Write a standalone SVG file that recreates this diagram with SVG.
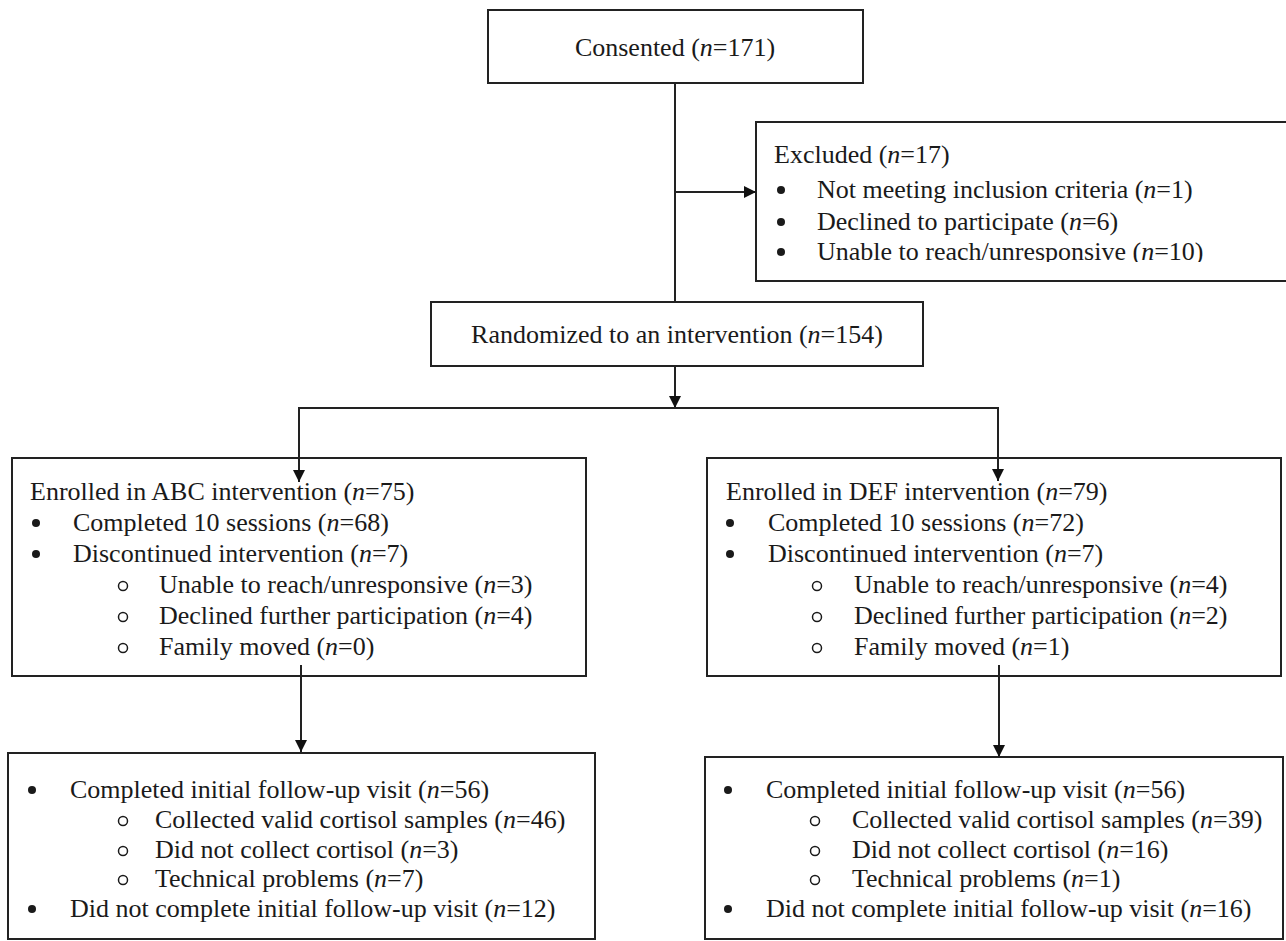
<svg xmlns="http://www.w3.org/2000/svg" width="1286" height="941" viewBox="0 0 1286 941">
<style>
.box{fill:#fff;stroke:#222;stroke-width:2}
.t{font-family:"Liberation Serif","Times New Roman",serif;font-size:26px;fill:#1a1a1a}
.i{font-style:italic}
.ln{fill:none;stroke:#222;stroke-width:2}
.dot{fill:#1a1a1a}
.ring{fill:none;stroke:#1a1a1a;stroke-width:1.5}
</style>
<defs>
<marker id="ah" viewBox="0 0 12 12" refX="12" refY="6" markerWidth="12" markerHeight="12" markerUnits="userSpaceOnUse" orient="auto">
<path d="M0,0 L12,6 L0,12 Z" fill="#111"/>
</marker>
<clipPath id="exclip"><rect x="756" y="122" width="530" height="140"/></clipPath>
</defs>
<rect width="1286" height="941" fill="#fff"/>

<g id="consented">
<rect class="box" x="488" y="10" width="375" height="73"/>
<text class="t" x="675" y="56" text-anchor="middle">Consented (<tspan class="i">n</tspan>=171)</text>
</g>

<g id="excluded">
<rect class="box" x="756" y="122" width="540" height="159"/>
<g clip-path="url(#exclip)">
<text class="t" x="774" y="163">Excluded (<tspan class="i">n</tspan>=17)</text>
<circle class="dot" cx="781" cy="190" r="4"/>
<text class="t" x="817" y="198">Not meeting inclusion criteria (<tspan class="i">n</tspan>=1)</text>
<circle class="dot" cx="781" cy="222" r="4"/>
<text class="t" x="817" y="230">Declined to participate (<tspan class="i">n</tspan>=6)</text>
<circle class="dot" cx="781" cy="252" r="4"/>
<text class="t" x="817" y="260">Unable to reach/unresponsive (<tspan class="i">n</tspan>=10)</text>
</g>
</g>

<g id="randomized">
<rect class="box" x="431" y="302" width="492" height="64"/>
<text class="t" x="677" y="343" text-anchor="middle">Randomized to an intervention (<tspan class="i">n</tspan>=154)</text>
</g>

<g id="abc">
<rect class="box" x="12" y="458" width="574" height="218"/>
<text class="t" x="30" y="500">Enrolled in ABC intervention (<tspan class="i">n</tspan>=75)</text>
<circle class="dot" cx="36" cy="523" r="4"/>
<text class="t" x="73" y="531">Completed 10 sessions (<tspan class="i">n</tspan>=68)</text>
<circle class="dot" cx="36" cy="554" r="4"/>
<text class="t" x="73" y="562">Discontinued intervention (<tspan class="i">n</tspan>=7)</text>
<circle class="ring" cx="123" cy="586" r="4.5"/>
<text class="t" x="159" y="593">Unable to reach/unresponsive (<tspan class="i">n</tspan>=3)</text>
<circle class="ring" cx="123" cy="617" r="4.5"/>
<text class="t" x="159" y="624">Declined further participation (<tspan class="i">n</tspan>=4)</text>
<circle class="ring" cx="123" cy="648" r="4.5"/>
<text class="t" x="159" y="655">Family moved (<tspan class="i">n</tspan>=0)</text>
</g>

<g id="def">
<rect class="box" x="707" y="458" width="574" height="218"/>
<text class="t" x="726" y="500">Enrolled in DEF intervention (<tspan class="i">n</tspan>=79)</text>
<circle class="dot" cx="730" cy="523" r="4"/>
<text class="t" x="768" y="531">Completed 10 sessions (<tspan class="i">n</tspan>=72)</text>
<circle class="dot" cx="730" cy="554" r="4"/>
<text class="t" x="768" y="562">Discontinued intervention (<tspan class="i">n</tspan>=7)</text>
<circle class="ring" cx="817" cy="586" r="4.5"/>
<text class="t" x="854" y="593">Unable to reach/unresponsive (<tspan class="i">n</tspan>=4)</text>
<circle class="ring" cx="817" cy="617" r="4.5"/>
<text class="t" x="854" y="624">Declined further participation (<tspan class="i">n</tspan>=2)</text>
<circle class="ring" cx="817" cy="648" r="4.5"/>
<text class="t" x="854" y="655">Family moved (<tspan class="i">n</tspan>=1)</text>
</g>

<g id="abc-followup">
<rect class="box" x="8" y="753" width="587" height="186"/>
<circle class="dot" cx="32" cy="790" r="4"/>
<text class="t" x="70" y="798">Completed initial follow-up visit (<tspan class="i">n</tspan>=56)</text>
<circle class="ring" cx="123" cy="821" r="4.5"/>
<text class="t" x="155" y="828">Collected valid cortisol samples (<tspan class="i">n</tspan>=46)</text>
<circle class="ring" cx="123" cy="851" r="4.5"/>
<text class="t" x="155" y="858">Did not collect cortisol (<tspan class="i">n</tspan>=3)</text>
<circle class="ring" cx="123" cy="880" r="4.5"/>
<text class="t" x="155" y="887">Technical problems (<tspan class="i">n</tspan>=7)</text>
<circle class="dot" cx="32" cy="909" r="4"/>
<text class="t" x="70" y="917">Did not complete initial follow-up visit (<tspan class="i">n</tspan>=12)</text>
</g>

<g id="def-followup">
<rect class="box" x="705" y="757" width="578" height="182"/>
<circle class="dot" cx="728" cy="790" r="4"/>
<text class="t" x="766" y="798">Completed initial follow-up visit (<tspan class="i">n</tspan>=56)</text>
<circle class="ring" cx="815" cy="821" r="4.5"/>
<text class="t" x="852" y="828">Collected valid cortisol samples (<tspan class="i">n</tspan>=39)</text>
<circle class="ring" cx="815" cy="851" r="4.5"/>
<text class="t" x="852" y="858">Did not collect cortisol (<tspan class="i">n</tspan>=16)</text>
<circle class="ring" cx="815" cy="880" r="4.5"/>
<text class="t" x="852" y="887">Technical problems (<tspan class="i">n</tspan>=1)</text>
<circle class="dot" cx="728" cy="909" r="4"/>
<text class="t" x="766" y="917">Did not complete initial follow-up visit (<tspan class="i">n</tspan>=16)</text>
</g>

<g id="connectors">
<line class="ln" x1="675" y1="83" x2="675" y2="302"/>
<line class="ln" x1="675" y1="192" x2="756" y2="192" marker-end="url(#ah)"/>
<line class="ln" x1="675" y1="366" x2="675" y2="408" marker-end="url(#ah)"/>
<line class="ln" x1="298" y1="408" x2="999" y2="408"/>
<line class="ln" x1="299" y1="407" x2="299" y2="482" marker-end="url(#ah)"/>
<line class="ln" x1="998" y1="407" x2="998" y2="481" marker-end="url(#ah)"/>
<line class="ln" x1="301" y1="665" x2="301" y2="752" marker-end="url(#ah)"/>
<line class="ln" x1="999" y1="665" x2="999" y2="757" marker-end="url(#ah)"/>
</g>
</svg>
